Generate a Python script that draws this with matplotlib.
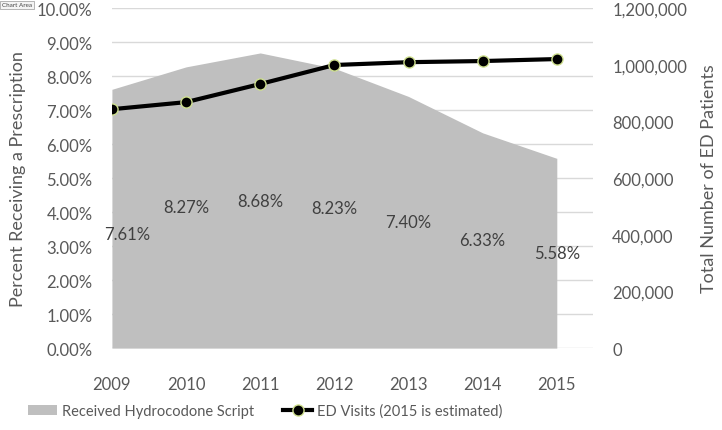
import matplotlib.pyplot as plt
from matplotlib.ticker import FuncFormatter

years = [2009, 2010, 2011, 2012, 2013, 2014, 2015]
pct_script = [7.61, 8.27, 8.68, 8.23, 7.40, 6.33, 5.58]
ed_visits = [843000, 868000, 932000, 999000, 1009000, 1013000, 1020000]

text_col = '#595959'
plt.rcParams['font.family'] = ['Lato', 'DejaVu Sans']

fig = plt.figure(figsize=(7.22, 4.31), dpi=100)
ax = fig.add_axes([0.155, 0.19, 0.666, 0.789])
ax2 = ax.twinx()

# area on primary axis
ax.fill_between(years, pct_script, 0, color='#bfbfbf', linewidth=0, zorder=2,
                label='Received Hydrocodone Script')
for i, (x, v) in enumerate(zip(years, pct_script)):
    dx = 0.2 if i == 0 else 0
    dy = 0.44 if i == 0 else 0.5
    ax.text(x + dx, v * dy, f'{v:.2f}%', ha='center', va='center',
            fontsize=12, color='#404040', zorder=3)

ax.set_xlim(2009, 2015.485)
ax.set_ylim(0, 10)
ax.set_yticks(range(0, 11))
ax.yaxis.set_major_formatter(FuncFormatter(lambda v, p: f'{v:.2f}%'))
ax.set_xticks(years)
ax.grid(axis='y', color='#d9d9d9', linewidth=1, zorder=1)
ax.set_axisbelow(True)
ax.set_ylabel('Percent Receiving a Prescription', fontsize=13, color=text_col, labelpad=8)

# line on secondary axis
ax2.plot(years, ed_visits, color='black', linewidth=3, marker='o', markersize=8,
         markerfacecolor='black', markeredgecolor='#cfe08f', markeredgewidth=1,
         label='ED Visits (2015 is estimated)', zorder=4)
ax2.set_ylim(0, 1200000)
ax2.set_yticks(range(0, 1200001, 200000))
ax2.yaxis.set_major_formatter(FuncFormatter(lambda v, p: f'{int(v):,}'))
ax2.set_ylabel('Total Number of ED Patients', fontsize=13, color=text_col, labelpad=10)

for a in (ax, ax2):
    for s in a.spines.values():
        s.set_visible(False)
    a.tick_params(length=0, labelsize=12, labelcolor=text_col)
ax.tick_params(axis='y', pad=14)
ax.tick_params(axis='x', pad=20)
ax2.tick_params(axis='y', pad=14)

h1, l1 = ax.get_legend_handles_labels()
h2, l2 = ax2.get_legend_handles_labels()
fig.legend(h1 + h2, l1 + l2, loc='center', bbox_to_anchor=(265 / 722, 1 - 412 / 431),
           ncol=2, frameon=False, fontsize=10.5, labelcolor=text_col,
           handlelength=2.0, handleheight=0.6, columnspacing=2.0, handletextpad=0.3)

fig.text(0.003, 0.992, 'Chart Area', fontsize=4.5, color='#444444', va='top', ha='left',
         bbox=dict(boxstyle='square,pad=0.3', facecolor='#f4f4f4', edgecolor='#999999', linewidth=0.5))

fig.savefig('out.png', dpi=100)
